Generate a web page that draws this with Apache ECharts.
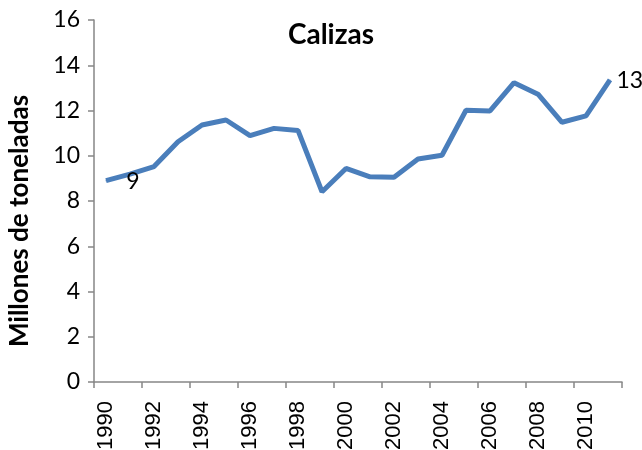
<!DOCTYPE html>
<html>
<head>
<meta charset="utf-8">
<script src="https://cdn.jsdelivr.net/npm/echarts@6/dist/echarts.min.js"></script>
<style>
    html, body { margin: 0; padding: 0; background: #fff; }
    #calizas { width: 642px; height: 450px; }
</style>
</head>
<body>
<div id="calizas"></div>
<script>
    // años y producción (millones de toneladas)
    var years = ['1990', '1991', '1992', '1993', '1994', '1995', '1996', '1997', '1998', '1999', '2000',
        '2001', '2002', '2003', '2004', '2005', '2006', '2007', '2008', '2009', '2010', '2011'];
    var calizas = [8.9, 9.19, 9.52, 10.62, 11.36, 11.58, 10.89, 11.21, 11.12, 8.41, 9.44,
        9.07, 9.05, 9.86, 10.02, 12.01, 11.98, 13.23, 12.72, 11.48, 11.76, 13.35];
    // etiquetas visibles: índice -> texto
    var labelTexts = {1: '9', 21: '13'};

    var fontName = 'Lato, "Liberation Sans", sans-serif';
    var axisGray = '#868686';
    var lineBlue = '#4a7ebb';

    var seriesData = calizas.map(function (v, i) {
        var item = {value: v};
        if (labelTexts[i] !== undefined) {
            item.label = {
                show: true,
                formatter: labelTexts[i],
                position: i === 21 ? 'right' : 'bottom',
                distance: i === 21 ? 6 : 0,
                offset: i === 21 ? [0, 1] : [3, -4],
                fontFamily: fontName,
                fontSize: 23,
                color: '#000'
            };
        }
        return item;
    });

    var chart = echarts.init(document.getElementById('calizas'));
    var option = {
        backgroundColor: '#fff',
        animation: false,
        title: {
            text: 'Calizas',
            left: 326,
            top: 16,
            textAlign: 'center',
            textStyle: {
                fontFamily: fontName,
                fontWeight: 'bold',
                fontSize: 28,
                color: '#000'
            }
        },
        grid: {
            left: 94,
            right: 20,
            top: 20,
            bottom: 68,
            containLabel: false,
            outerBoundsMode: 'none'
        },
        xAxis: {
            type: 'category',
            data: years,
            boundaryGap: true,
            axisLine: {lineStyle: {color: axisGray, width: 1.5}},
            axisTick: {show: true, length: 6, lineStyle: {color: axisGray, width: 1.5}},
            axisLabel: {
                interval: 1,
                rotate: 90,
                margin: 19,
                fontFamily: '"Liberation Sans", Arial, sans-serif',
                fontSize: 22,
                color: '#000'
            },
            splitLine: {show: false}
        },
        yAxis: {
            type: 'value',
            min: 0,
            max: 16,
            interval: 2,
            name: 'Millones de toneladas',
            nameLocation: 'middle',
            nameGap: 61,
            nameTextStyle: {
                fontFamily: fontName,
                fontWeight: 'bold',
                fontSize: 26,
                color: '#000',
                padding: [0, 40, 0, 0]
            },
            axisLine: {show: true, lineStyle: {color: axisGray, width: 1.5}},
            axisTick: {show: true, length: 6, lineStyle: {color: axisGray, width: 1.5}},
            axisLabel: {
                margin: 14,
                fontFamily: fontName,
                fontSize: 23,
                color: '#000'
            },
            splitLine: {show: false}
        },
        series: [{
            name: 'Calizas',
            type: 'line',
            data: seriesData,
            symbol: 'circle',
            symbolSize: 1,
            showSymbol: true,
            showAllSymbol: true,
            itemStyle: {color: lineBlue},
            lineStyle: {color: lineBlue, width: 5}
        }]
    };
    chart.setOption(option);
</script>
</body>
</html>
